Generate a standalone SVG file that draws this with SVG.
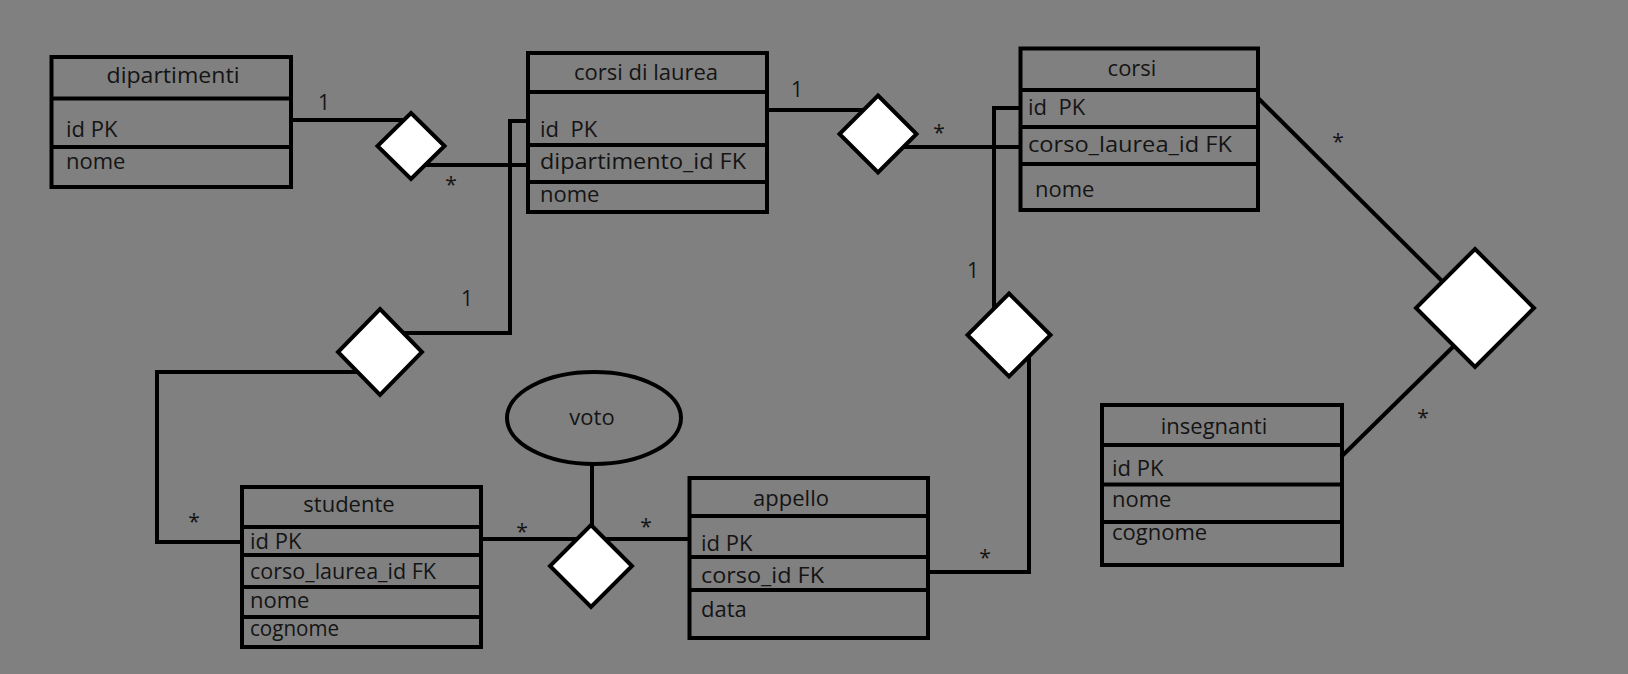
<svg xmlns="http://www.w3.org/2000/svg" width="1628" height="674" viewBox="0 0 1628 674">
<style>
.box{fill:none;stroke:#000;stroke-width:4}
.div{stroke:#000;stroke-width:4}
.conn{fill:none;stroke:#000;stroke-width:4}
.dia{fill:#fff;stroke:#000;stroke-width:4;stroke-linejoin:miter}
.t{font-family:"Open Sans","Liberation Sans",sans-serif;font-size:22px;fill:#141414;white-space:pre}
.h{font-family:"Open Sans","Liberation Sans",sans-serif;font-size:22px;fill:#141414;text-anchor:middle}
.m{font-family:"Open Sans","Liberation Sans",sans-serif;font-size:21px;fill:#141414;text-anchor:middle}
</style>
<rect width="1628" height="674" fill="#808080"/>
<g id="connectors">
<path class="conn" d="M291 120 H405"/>
<path class="conn" d="M420 165 H528"/>
<path class="conn" d="M528 121 H510 V333 H400"/>
<path class="conn" d="M360 372 H157 V542 H242"/>
<path class="conn" d="M481 539 H689"/>
<path class="conn" d="M592 464 V530"/>
<path class="conn" d="M928 572 H1029 V352"/>
<path class="conn" d="M1020 108 H994 V312"/>
<path class="conn" d="M767 110 H870"/>
<path class="conn" d="M890 147 H1020"/>
<path class="conn" d="M1258 98 L1450 289"/>
<path class="conn" d="M1462 338 L1341 457"/>
<text class="m" x="324" y="110">1</text>
<text class="m" x="451" y="192">*</text>
<text class="m" x="467" y="306">1</text>
<text class="m" x="194" y="529">*</text>
<text class="m" x="522" y="539">*</text>
<text class="m" x="646" y="534">*</text>
<text class="m" x="985" y="565">*</text>
<text class="m" x="973" y="278">1</text>
<text class="m" x="797" y="97">1</text>
<text class="m" x="939" y="140">*</text>
<text class="m" x="1338" y="149">*</text>
<text class="m" x="1423" y="425">*</text>
</g>
<g id="rel-dip-cdl"><path class="dia" d="M411 113 L444.5 146 L411 179 L377.5 146 Z"/></g>
<g id="rel-cdl-corsi"><path class="dia" d="M878 95.5 L916.5 134 L878 172.5 L839.5 134 Z"/></g>
<g id="rel-corsi-insegnanti"><path class="dia" d="M1475 249 L1534 308 L1475 367 L1416 308 Z"/></g>
<g id="rel-cdl-studente"><path class="dia" d="M380 309 L422 352 L380 395 L338 352 Z"/></g>
<g id="rel-studente-appello"><path class="dia" d="M591 525 L632 566 L591 607 L550 566 Z"/></g>
<g id="rel-corsi-appello"><path class="dia" d="M1009 293.5 L1050.5 335 L1009 376.5 L967.5 335 Z"/></g>
<g id="voto">
<ellipse cx="594" cy="418" rx="87" ry="46" fill="none" stroke="#000" stroke-width="4"/>
<text class="h" x="592" y="425">voto</text>
</g>
<g id="dipartimenti">
<rect class="box" x="51.5" y="57" width="239.5" height="130"/>
<line class="div" x1="51.5" y1="98.5" x2="291" y2="98.5"/>
<line class="div" x1="51.5" y1="147" x2="291" y2="147"/>
<text class="h" x="173" y="83" textLength="133" lengthAdjust="spacingAndGlyphs">dipartimenti</text>
<text class="t" x="66" y="137">id PK</text>
<text class="t" x="66" y="169">nome</text>
</g>
<g id="corsi-di-laurea">
<rect class="box" x="528" y="53" width="239" height="159"/>
<line class="div" x1="528" y1="92" x2="767" y2="92"/>
<line class="div" x1="528" y1="145" x2="767" y2="145"/>
<line class="div" x1="528" y1="182" x2="767" y2="182"/>
<text class="h" x="646" y="80">corsi di laurea</text>
<text class="t" x="540" y="137" xml:space="preserve">id  PK</text>
<text class="t" x="540" y="169" textLength="206" lengthAdjust="spacingAndGlyphs">dipartimento_id FK</text>
<text class="t" x="540" y="202">nome</text>
</g>
<g id="corsi">
<rect class="box" x="1020.5" y="48.5" width="237.5" height="161.5"/>
<line class="div" x1="1020.5" y1="90" x2="1258" y2="90"/>
<line class="div" x1="1020.5" y1="127" x2="1258" y2="127"/>
<line class="div" x1="1020.5" y1="164" x2="1258" y2="164"/>
<text class="h" x="1132" y="76">corsi</text>
<text class="t" x="1028" y="115" xml:space="preserve">id  PK</text>
<text class="t" x="1028" y="152" textLength="204" lengthAdjust="spacingAndGlyphs">corso_laurea_id FK</text>
<text class="t" x="1035" y="197">nome</text>
</g>
<g id="studente">
<rect class="box" x="242" y="487" width="239" height="160"/>
<line class="div" x1="242" y1="527" x2="481" y2="527"/>
<line class="div" x1="242" y1="555" x2="481" y2="555"/>
<line class="div" x1="242" y1="587" x2="481" y2="587"/>
<line class="div" x1="242" y1="617" x2="481" y2="617"/>
<text class="h" x="349" y="512">studente</text>
<text class="t" x="250" y="549">id PK</text>
<text class="t" x="250" y="579" textLength="186" lengthAdjust="spacingAndGlyphs">corso_laurea_id FK</text>
<text class="t" x="250" y="608">nome</text>
<text class="t" x="250" y="636" textLength="89" lengthAdjust="spacingAndGlyphs">cognome</text>
</g>
<g id="appello">
<rect class="box" x="689.5" y="478" width="238.5" height="160"/>
<line class="div" x1="689.5" y1="516" x2="928" y2="516"/>
<line class="div" x1="689.5" y1="557" x2="928" y2="557"/>
<line class="div" x1="689.5" y1="590" x2="928" y2="590"/>
<text class="h" x="791" y="506">appello</text>
<text class="t" x="701" y="551">id PK</text>
<text class="t" x="701" y="583" textLength="123" lengthAdjust="spacingAndGlyphs">corso_id FK</text>
<text class="t" x="701" y="617">data</text>
</g>
<g id="insegnanti">
<rect class="box" x="1102" y="405" width="240" height="160"/>
<line class="div" x1="1102" y1="445" x2="1342" y2="445"/>
<line class="div" x1="1102" y1="484.5" x2="1342" y2="484.5"/>
<line class="div" x1="1102" y1="522" x2="1342" y2="522"/>
<text class="h" x="1214" y="434">insegnanti</text>
<text class="t" x="1112" y="476">id PK</text>
<text class="t" x="1112" y="507">nome</text>
<text class="t" x="1112" y="540">cognome</text>
</g>
</svg>
